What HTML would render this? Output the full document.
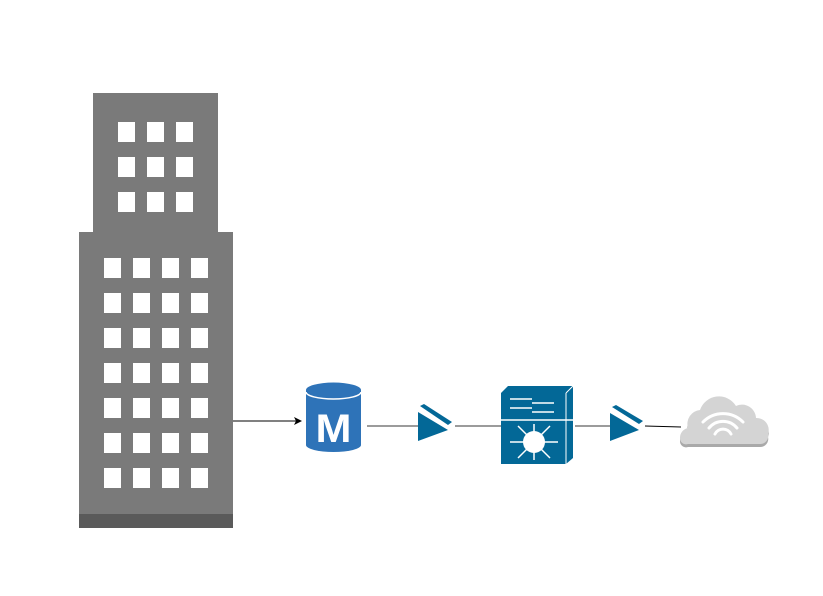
<!DOCTYPE html>
<html><head><style>body{margin:0;background:#fff}</style></head><body>
<svg width="823" height="591" viewBox="0 0 823 591" xmlns="http://www.w3.org/2000/svg">
<g fill="#7a7a7a">
<rect x="93" y="93" width="125" height="140"/>
<rect x="79" y="232" width="154" height="296"/>
</g>
<rect x="79" y="514" width="154" height="14" fill="#5a5a5a"/>
<g fill="#fff">
<rect x="118" y="122" width="17" height="20"/><rect x="147" y="122" width="17" height="20"/><rect x="176" y="122" width="17" height="20"/>
<rect x="118" y="157" width="17" height="20"/><rect x="147" y="157" width="17" height="20"/><rect x="176" y="157" width="17" height="20"/>
<rect x="118" y="192" width="17" height="20"/><rect x="147" y="192" width="17" height="20"/><rect x="176" y="192" width="17" height="20"/>
</g>
<g fill="#fff" id="w">
<rect x="104" y="258" width="17" height="20"/><rect x="133" y="258" width="17" height="20"/><rect x="162" y="258" width="17" height="20"/><rect x="191" y="258" width="17" height="20"/>
</g>
<use href="#w" y="35"/><use href="#w" y="70"/><use href="#w" y="105"/><use href="#w" y="140"/><use href="#w" y="175"/><use href="#w" y="210"/>
<line x1="233" y1="421" x2="296" y2="421" stroke="#000" stroke-width="1"/>
<polygon points="302,421 294,417 296,421 294,425" fill="#000"/>
<!-- DB -->
<path d="M306,390 v55 a27.5,7 0 0 0 55,0 v-55 z" fill="#2e73b8"/>
<ellipse cx="333.5" cy="390" rx="27.5" ry="7.5" fill="#2e73b8"/>
<path d="M306,392 a27.5,7 0 0 0 55,0" fill="none" stroke="#fff" stroke-width="1.5"/>
<text x="333.5" y="442" font-family="Liberation Sans, sans-serif" font-weight="bold" font-size="36" fill="#fff" text-anchor="middle" transform="translate(333.5 0) scale(1.2 1.1) translate(-333.5 -40)">M</text>
<g stroke="#7a7a7a" stroke-width="1.5">
<line x1="367" y1="426" x2="418" y2="426"/>
<line x1="455" y1="426" x2="501" y2="426"/>
<line x1="575" y1="426" x2="610" y2="426"/>
</g>
<line x1="645" y1="426" x2="681" y2="427" stroke="#000" stroke-width="1"/>
<g fill="#036897">
<polygon points="418,412 418,441 448,430"/>
<polygon points="420,406 424,404 452,422 448,425"/>
<polygon points="610,413 610,441 639,430"/>
<polygon points="612,407 616,405 643,421 639,424"/>
</g>
<g fill="#036897">
<polygon points="501,393 508,386 573,386 566,393"/>
<polygon points="566,393 573,386 573,458 566,464"/>
<rect x="501" y="393" width="65" height="71"/>
</g>
<line x1="501" y1="420" x2="573" y2="420" stroke="#fff" stroke-width="1.5"/>
<line x1="566" y1="393" x2="573" y2="386" stroke="#fff" stroke-width="1"/>
<line x1="566" y1="393" x2="566" y2="464" stroke="#fff" stroke-width="1"/>
<g stroke="#fff" stroke-width="1.5" fill="none">
<line x1="510" y1="399" x2="532" y2="399"/><line x1="532" y1="403" x2="554" y2="403"/>
<line x1="510" y1="408" x2="532" y2="408"/><line x1="532" y1="412" x2="554" y2="412"/>
<line x1="534" y1="424" x2="534" y2="460"/><line x1="510" y1="442" x2="558" y2="442"/>
<line x1="518" y1="426" x2="550" y2="458"/><line x1="550" y1="426" x2="518" y2="458"/>
</g>
<circle cx="534" cy="442" r="11" fill="#fff"/>
<path d="M688,447 h72 a8,8 0 0 0 8,-10 a12,12 0 0 0 -12,-16 a14,14 0 0 0 -20,-12 a20,20 0 0 0 -36,4 a14,14 0 0 0 -12,18 a10,10 0 0 0 -8,10 a6,6 0 0 0 8,6 z" fill="#a9a9a9"/>
<path d="M688,444 h72 a8,8 0 0 0 8,-10 a12,12 0 0 0 -12,-16 a14,14 0 0 0 -20,-12 a20,20 0 0 0 -36,4 a14,14 0 0 0 -12,18 a10,10 0 0 0 -8,10 a6,6 0 0 0 8,6 z" fill="#d4d4d4"/>
<g stroke="#fff" stroke-width="3" fill="none" stroke-linecap="round">
<path d="M703,422 a28,28 0 0 1 40,0"/>
<path d="M709,428 a18,18 0 0 1 28,0"/>
<path d="M715,434 a9,9 0 0 1 16,0"/>
</g>
</svg>
</body></html>
